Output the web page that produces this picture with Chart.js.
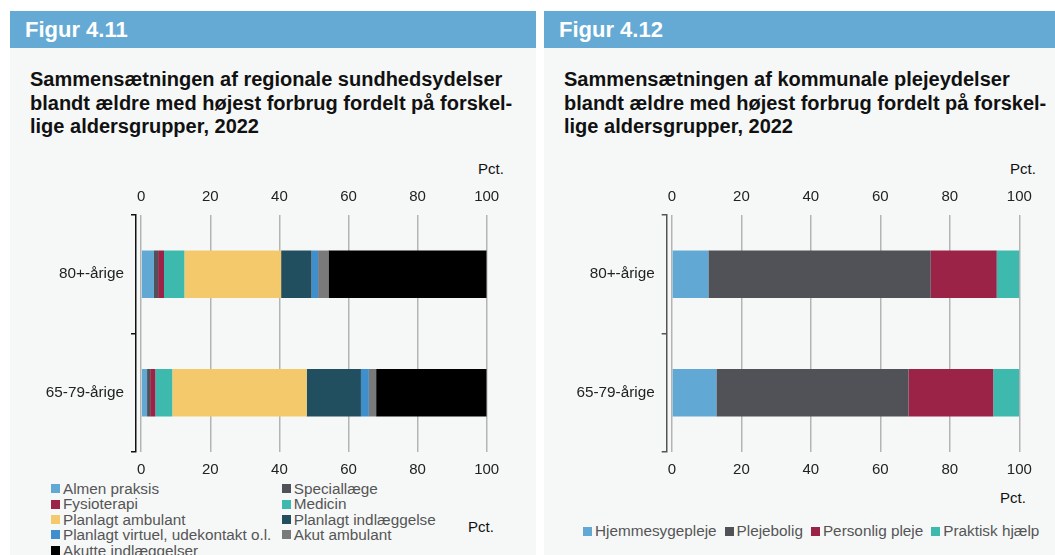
<!DOCTYPE html>
<html lang="da">
<head>
<meta charset="utf-8">
<script src="https://cdn.jsdelivr.net/npm/chart.js@4"></script>
<style>
body { margin:0; background:#fff; font-family:"Liberation Sans", Arial, sans-serif; width:1055px; height:555px; position:relative; overflow:hidden; }
.panel { position:absolute; top:11px; height:560px; background:#f6f8f8; }
#p1 { left:10px; width:526px; }
#p2 { left:544px; width:511px; }
.head { height:37px; background:#65aad5; color:#fff; font-weight:bold; font-size:22px; line-height:37px; padding-left:15px; }
.title { position:absolute; left:20px; top:57px; font-weight:bold; font-size:20px; line-height:23.5px; color:#111; }
canvas { position:absolute; left:0; top:139px; }
.pct { position:absolute; font-size:15px; line-height:18px; color:#111; }
.legend { position:absolute; font-size:15.3px; color:#555; }
#leg1 { left:41px; top:470px; display:grid; grid-template-columns:230.7px auto; line-height:15.4px; }
#leg2 { left:39px; top:511px; display:flex; line-height:18px; }
.item { display:flex; align-items:center; white-space:nowrap; }
#leg2 .item { margin-right:8px; }
.sq { width:9px; height:9px; margin-right:3px; flex:none; }
</style>
</head>
<body>
<div class="panel" id="p1">
  <div class="head">Figur 4.11</div>
  <div class="title">Sammensætningen af regionale sundhedsydelser<br>blandt ældre med højest forbrug fordelt på forskel-<br>lige aldersgrupper, 2022</div>
  <div class="pct" style="left:468px; top:149px;">Pct.</div>
  <canvas id="graph1" width="526" height="329"></canvas>
  <div class="legend" id="leg1"></div>
  <div class="pct" style="left:458px; top:507px;">Pct.</div>
</div>
<div class="panel" id="p2">
  <div class="head">Figur 4.12</div>
  <div class="title">Sammensætningen af kommunale plejeydelser<br>blandt ældre med højest forbrug fordelt på forskel-<br>lige aldersgrupper, 2022</div>
  <div class="pct" style="left:466px; top:149px;">Pct.</div>
  <canvas id="graph2" width="511" height="329"></canvas>
  <div class="pct" style="left:456px; top:478px;">Pct.</div>
  <div class="legend" id="leg2"></div>
</div>
<script>
//--------------------- DATA -------------------------
const ageGroups = ['80+-årige', '65-79-årige'];
const tickValues = [0, 20, 40, 60, 80, 100];

// figur 4.11 - regionale sundhedsydelser (pct.)
const regLabels = ['Almen praksis', 'Speciallæge', 'Fysioterapi', 'Medicin', 'Planlagt ambulant',
    'Planlagt indlæggelse', 'Planlagt virtuel, udekontakt o.l.', 'Akut ambulant', 'Akutte indlæggelser'];
const almenPraksis = [3.7, 1.7];
const specialLaege = [1.2, 0.9];
const fysioterapi = [1.7, 1.5];
const medicin = [5.9, 4.9];
const planlagtAmbulant = [28.0, 38.9];
const planlagtIndlaeggelse = [8.8, 15.7];
const planlagtVirtuel = [1.9, 2.3];
const akutAmbulant = [3.0, 2.1];
const akutteIndlaeggelser = [45.8, 32.0];
const regColors = ['#62a8d4', '#505258', '#9b2348', '#3db9ad', '#f3c96b', '#214f5f', '#3f8fcd', '#7a7a7a', '#000000'];

// figur 4.12 - kommunale plejeydelser (pct.)
const komLabels = ['Hjemmesygepleje', 'Plejebolig', 'Personlig pleje', 'Praktisk hjælp'];
const hjemmesygepleje = [10.5, 12.8];
const plejebolig = [64.0, 55.3];
const personligPleje = [19.0, 24.4];
const praktiskHjaelp = [6.5, 7.5];
const komColors = ['#62a8d4', '#505258', '#9b2348', '#3db9ad'];

Chart.defaults.font.family = '"Liberation Sans", Arial, sans-serif';
Chart.defaults.font.size = 15;
Chart.defaults.color = '#222';

// CONFIG BLOCK
function setTicks(scale) {
    scale.ticks = tickValues.map(v => ({ value: v }));
}

function makeConfig(labels, series, colors, yWidth, rightPad, axisColor) {
    return {
        type: 'bar',
        data: {
            labels: ageGroups,
            datasets: series.map((values, i) => ({
                label: labels[i],
                data: values,
                backgroundColor: colors[i],
                borderWidth: 0,
                barPercentage: 0.4,
                categoryPercentage: 1
            }))
        },
        options: {
            indexAxis: 'y',
            responsive: false,
            animation: false,
            layout: { padding: { left: 0, right: rightPad, top: 0, bottom: 0 } },
            plugins: { legend: { display: false }, tooltip: { enabled: false } },
            scales: {
                x: {
                    stacked: true, min: -1.5, max: 100,
                    afterBuildTicks: setTicks,
                    afterFit: s => { s.height = 27; },
                    grid: { color: '#b4b4b4', lineWidth: 1.5, drawTicks: false },
                    border: { display: false },
                    ticks: { padding: 9 }
                },
                x2: {
                    type: 'linear', axis: 'x', position: 'top', min: -1.5, max: 100,
                    afterBuildTicks: setTicks,
                    afterFit: s => { s.height = 65; },
                    grid: { display: false, drawTicks: false },
                    border: { display: false },
                    ticks: { padding: 9 }
                },
                y: {
                    stacked: true,
                    afterFit: s => { s.width = yWidth; },
                    grid: { offset: true, drawOnChartArea: false, tickLength: 5, color: axisColor, lineWidth: 1.5 },
                    border: { color: axisColor, width: 1.5 },
                    ticks: { padding: 7, font: { size: 15.3 } }
                }
            }
        }
    };
}

// LEGENDS (html, built from the same arrays)
function makeLegend(id, labels, colors) {
    const box = document.getElementById(id);
    labels.forEach((txt, i) => {
        const item = document.createElement('div');
        item.className = 'item';
        item.innerHTML = '<span class="sq" style="background:' + colors[i] + '"></span><span></span>';
        item.lastChild.textContent = txt;
        box.appendChild(item);
    });
}
makeLegend('leg1', regLabels, regColors);
makeLegend('leg2', komLabels, komColors);

// RENDER BLOCK
const graph1 = new Chart(
    document.getElementById('graph1').getContext('2d'),
    makeConfig(regLabels,
        [almenPraksis, specialLaege, fysioterapi, medicin, planlagtAmbulant,
         planlagtIndlaeggelse, planlagtVirtuel, akutAmbulant, akutteIndlaeggelser],
        regColors, 126, 49.3, '#111')
);
const graph2 = new Chart(
    document.getElementById('graph2').getContext('2d'),
    makeConfig(komLabels, [hjemmesygepleje, plejebolig, personligPleje, praktiskHjaelp],
        komColors, 122.7, 35.7, '#555')
);
</script>
</body>
</html>
